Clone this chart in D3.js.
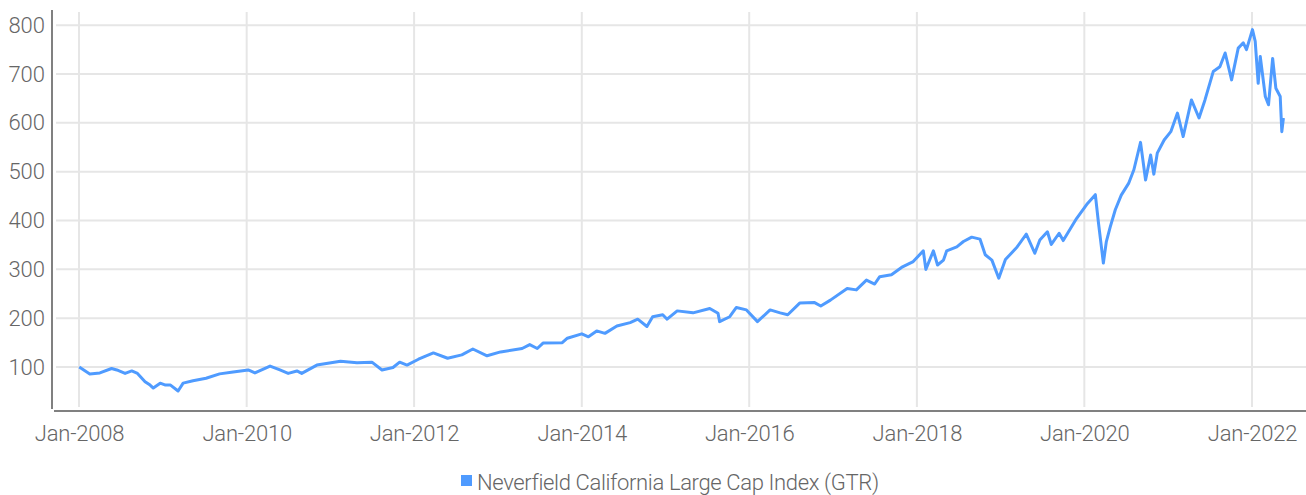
<!DOCTYPE html>
<html>
<head>
<meta charset="utf-8">
<script src="https://cdn.jsdelivr.net/npm/d3@7"></script>
<style>
  body { margin: 0; background: #fff; }
  text { font-family: Roboto, sans-serif; font-weight: 300; fill: #666; }
</style>
</head>
<body>
<div id="chart"></div>
<script>
// index level (start = 100)
var dates = [
  "2008-01-02","2008-02-17","2008-04-01","2008-05-22","2008-06-14","2008-07-20","2008-08-18","2008-09-12",
  "2008-10-15","2008-11-06","2008-11-20","2008-12-20","2009-01-12","2009-02-03","2009-03-08","2009-03-30",
  "2009-05-12","2009-07-08","2009-09-05","2009-11-03","2010-01-08","2010-02-06","2010-04-13","2010-05-26",
  "2010-07-01","2010-08-08","2010-08-29","2010-11-03","2011-02-14","2011-04-27","2011-07-01","2011-08-14",
  "2011-10-01","2011-10-30","2011-12-01","2012-01-20","2012-03-25","2012-05-26","2012-07-27","2012-09-13",
  "2012-11-14","2013-01-12","2013-04-16","2013-05-19","2013-06-21","2013-07-16","2013-10-08","2013-10-30",
  "2014-01-01","2014-01-30","2014-03-07","2014-04-12","2014-06-03","2014-07-31","2014-09-02","2014-10-12",
  "2014-11-06","2014-12-20","2015-01-08","2015-02-21","2015-05-01","2015-07-13","2015-08-18","2015-08-25",
  "2015-10-08","2015-11-06","2015-12-20","2016-02-06","2016-04-01","2016-05-15","2016-06-17","2016-08-08",
  "2016-10-12","2016-11-08","2016-12-20","2017-03-03","2017-04-12","2017-05-26","2017-07-01","2017-07-23",
  "2017-09-12","2017-10-26","2017-12-16","2018-01-29","2018-02-09","2018-03-14","2018-04-01","2018-04-27",
  "2018-05-11","2018-06-24","2018-07-23","2018-08-28","2018-10-03","2018-10-26","2018-11-24","2018-12-24",
  "2019-01-22","2019-03-14","2019-04-23","2019-05-30","2019-06-21","2019-07-24","2019-08-10","2019-09-13",
  "2019-10-01","2019-11-28","2020-01-15","2020-02-18","2020-03-03","2020-03-24","2020-04-06","2020-04-23",
  "2020-05-15","2020-06-10","2020-07-12","2020-08-04","2020-09-02","2020-09-24","2020-10-16","2020-10-30",
  "2020-11-14","2020-12-14","2021-01-12","2021-02-10","2021-03-07","2021-04-12","2021-05-15","2021-06-10",
  "2021-07-16","2021-08-14","2021-09-06","2021-10-04","2021-11-02","2021-11-24","2021-12-08","2022-01-03",
  "2022-01-15","2022-01-28","2022-02-06","2022-02-28","2022-03-14","2022-04-01","2022-04-15","2022-05-04",
  "2022-05-11","2022-05-18"
];
var values = [
  100, 86, 88, 97, 94, 87, 92, 87,
  70, 63, 57, 67, 63, 63, 51, 67,
  72, 77, 86, 90, 94, 88, 102, 94,
  87, 92, 87, 104, 112, 109, 110, 94,
  99, 110, 104, 116, 129, 118, 125, 137,
  123, 131, 138, 146, 138, 149, 150, 159,
  168, 162, 174, 169, 184, 191, 198, 183,
  203, 207, 198, 215, 211, 220, 210, 193,
  203, 222, 217, 193, 217, 211, 207, 231,
  232, 225, 237, 261, 258, 278, 270, 285,
  289, 304, 316, 338, 300, 338, 309, 319,
  338, 346, 357, 366, 362, 330, 319, 282,
  320, 346, 372, 333, 360, 377, 351, 374,
  359, 404, 435, 453, 394, 313, 357, 387,
  422, 452, 476, 504, 560, 483, 534, 495,
  538, 565, 582, 620, 572, 647, 610, 647,
  705, 715, 743, 688, 753, 764, 750, 791,
  767, 681, 736, 654, 637, 732, 671, 654,
  582, 610
];
var yTicks = [100, 200, 300, 400, 500, 600, 700, 800];
var xTickYears = [2008, 2010, 2012, 2014, 2016, 2018, 2020, 2022];
var seriesName = "Neverfield California Large Cap Index (GTR)";

var W = 1306, H = 495;
var parse = d3.timeParse("%Y-%m-%d");
var data = dates.map(function (d, i) { return { date: parse(d), value: values[i] }; });

var svg = d3.select("#chart").append("svg")
    .attr("width", W)
    .attr("height", H);

var x = d3.scaleTime()
    .domain([new Date(2008, 0, 1), new Date(2022, 0, 1)])
    .range([79, 1252]);
var y = d3.scaleLinear()
    .domain([10, 827])
    .range([411, 12]);

// horizontal grid
svg.append("g")
    .selectAll("line")
    .data(yTicks)
    .enter().append("line")
    .attr("x1", 56).attr("x2", W)
    .attr("y1", function (d) { return y(d); })
    .attr("y2", function (d) { return y(d); })
    .attr("stroke", "#e6e6e6")
    .attr("stroke-width", 2);

// vertical grid
var xTicks = xTickYears.map(function (yr) { return new Date(yr, 0, 1); });
svg.append("g")
    .selectAll("line")
    .data(xTicks)
    .enter().append("line")
    .attr("x1", function (d) { return x(d); })
    .attr("x2", function (d) { return x(d); })
    .attr("y1", 12).attr("y2", 407)
    .attr("stroke", "#e6e6e6")
    .attr("stroke-width", 2);

// axes
var yAxis = d3.axisLeft(y).tickValues(yTicks).tickSize(0).tickPadding(7);
var gy = svg.append("g").attr("transform", "translate(52,0)").call(yAxis);
gy.select(".domain").remove();
gy.selectAll("text").style("font-size", "22px").style("font-family", "Roboto").attr("fill", "#666");

var xAxis = d3.axisBottom(x).tickValues(xTicks).tickSize(0).tickPadding(14)
    .tickFormat(d3.timeFormat("Jan-%Y"));
var gx = svg.append("g").attr("transform", "translate(0,411)").call(xAxis);
gx.select(".domain").remove();
gx.selectAll("text").style("font-size", "22px").style("font-family", "Roboto")
    .style("letter-spacing", "-0.2px").attr("fill", "#666");

svg.append("line")
    .attr("x1", 52).attr("x2", 52).attr("y1", 10).attr("y2", 409)
    .attr("stroke", "#808080").attr("stroke-width", 2);
svg.append("line")
    .attr("x1", 54).attr("x2", W).attr("y1", 411).attr("y2", 411)
    .attr("stroke", "#808080").attr("stroke-width", 2);

// series
var line = d3.line()
    .x(function (d) { return x(d.date); })
    .y(function (d) { return y(d.value); });
svg.append("path")
    .datum(data)
    .attr("d", line)
    .attr("fill", "none")
    .attr("stroke", "#4f9bff")
    .attr("stroke-width", 3)
    .attr("stroke-linejoin", "round");

// legend
var lg = svg.append("g").attr("transform", "translate(461,475)");
lg.append("rect").attr("width", 11).attr("height", 11).attr("fill", "#4f9bff");
lg.append("text").attr("x", 16).attr("y", 15)
    .style("font-size", "22px")
    .style("letter-spacing", "-0.35px")
    .text(seriesName);
</script>
</body>
</html>
